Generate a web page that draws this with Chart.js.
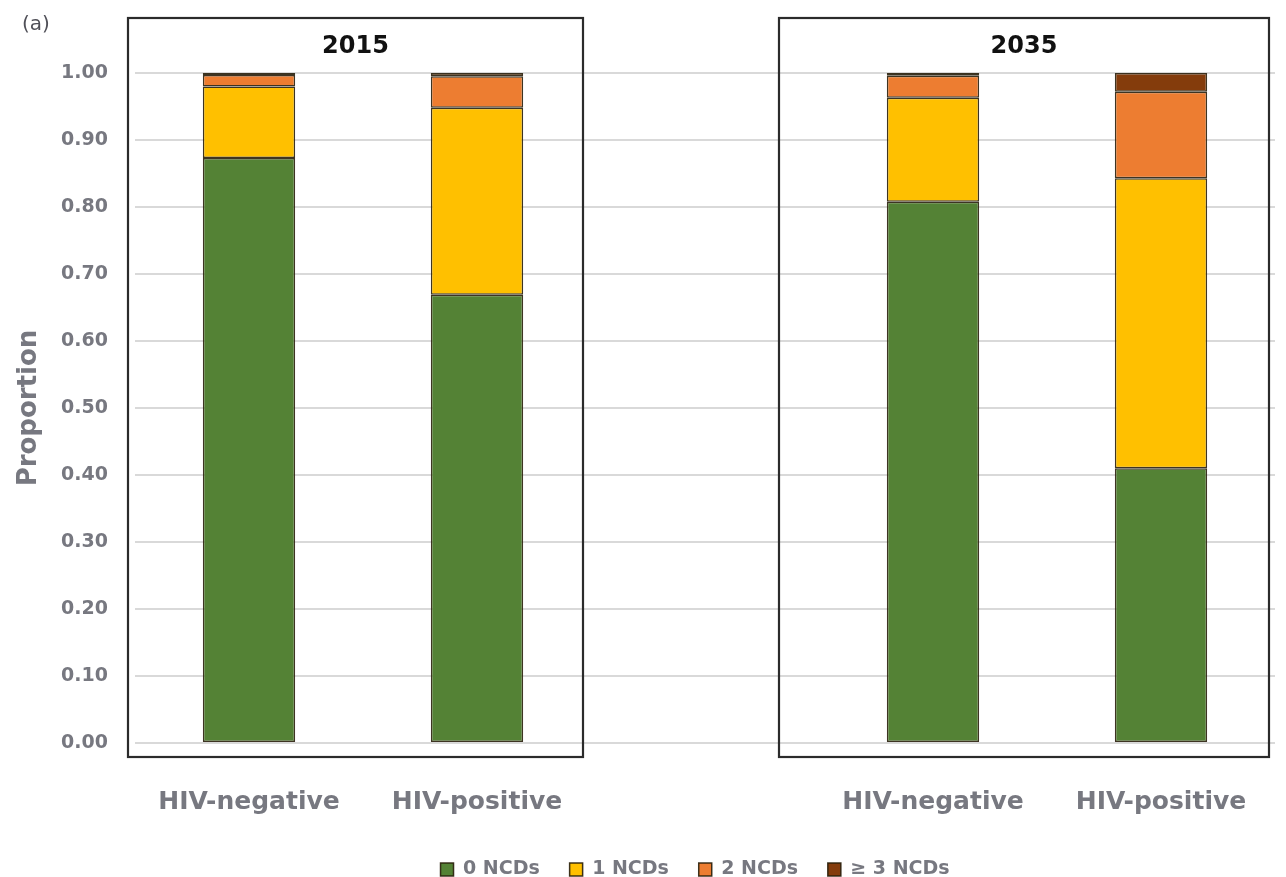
<!DOCTYPE html>
<html>
<head>
<meta charset="utf-8">
<script src="https://cdn.jsdelivr.net/npm/chart.js@4/dist/chart.umd.min.js"></script>
<style>
  html, body { margin: 0; padding: 0; background: #ffffff; }
  #wrap { width: 1286px; height: 877px; }
</style>
</head>
<body>
<div id="wrap"><canvas id="c" width="1286" height="877"></canvas></div>
<script>
// ---- Data ----
const categories = ['HIV-negative', 'HIV-positive', '', 'HIV-negative', 'HIV-positive'];
const panelTitles = ['2015', '2035'];
const seriesNames = ['0 NCDs', '1 NCDs', '2 NCDs', '\u2265 3 NCDs'];
const ncd0 = [0.873, 0.669, null, 0.808, 0.410];
const ncd1 = [0.107, 0.279, null, 0.155, 0.433];
const ncd2 = [0.017, 0.047, null, 0.033, 0.129];
const ncd3 = [0.003, 0.005, null, 0.004, 0.028];
const yTickMin = 0, yTickMax = 1, yTickStep = 0.1;

const colors = ['#548235', '#ffc000', '#ed7d31', '#843c0c'];
const borderCol = 'rgba(40,30,10,0.9)';
const FONT = '"DejaVu Sans", "Open Sans", sans-serif';
const GRAY = '#777880';

const seriesValues = [ncd0, ncd1, ncd2, ncd3];
const datasets = seriesValues.map((vals, i) => ({
  label: seriesNames[i],
  data: vals,
  backgroundColor: colors[i],
  borderColor: borderCol,
  borderWidth: 1.5,
  borderSkipped: false,
  barPercentage: 0.405,
  categoryPercentage: 1.0
}));

const panelPlugin = {
  id: 'panels',
  afterDraw(chart) {
    const ctx = chart.ctx;
    const x = chart.scales.x, y = chart.scales.y;
    const top = y.getPixelForValue(1) - 55;
    const bottom = y.getPixelForValue(0) + 14;
    const boxes = [
      [x.getPixelForValue(0) - 121, x.getPixelForValue(1) + 106],
      [x.getPixelForValue(3) - 154, x.getPixelForValue(4) + 108]
    ];
    ctx.save();
    ctx.strokeStyle = '#2b2b2b';
    ctx.lineWidth = 2.2;
    boxes.forEach((b, i) => {
      ctx.strokeRect(b[0], top, b[1] - b[0], bottom - top);
      ctx.fillStyle = '#111111';
      ctx.font = 'bold 24px ' + FONT;
      ctx.textAlign = 'center';
      ctx.textBaseline = 'middle';
      ctx.fillText(panelTitles[i], (b[0] + b[1]) / 2, top + 29);
    });
    ctx.fillStyle = '#505058';
    ctx.font = '20px ' + FONT;
    ctx.textAlign = 'left';
    ctx.textBaseline = 'middle';
    ctx.fillText('(a)', 22, 25);
    ctx.restore();
  }
};

new Chart(document.getElementById('c'), {
  type: 'bar',
  data: { labels: categories, datasets },
  options: {
    responsive: false,
    devicePixelRatio: 1,
    animation: false,
    layout: { padding: { top: 73, right: 11, left: 0, bottom: -12 } },
    plugins: {
      legend: {
        position: 'bottom',
        fullSize: false,
        labels: {
          boxWidth: 13, boxHeight: 13, padding: 10,
          color: GRAY,
          font: { family: FONT, size: 19, weight: 'bold' },
          generateLabels(chart) {
            const items = Chart.defaults.plugins.legend.labels.generateLabels(chart);
            items.forEach(it => {
              it.text = it.text + '\u00A0\u00A0\u00A0';
              it.strokeStyle = 'rgba(40,30,10,0.9)';
              it.lineWidth = 1.5;
            });
            return items;
          }
        }
      },
      tooltip: { enabled: false }
    },
    scales: {
      x: {
        stacked: true,
        grid: { display: false },
        border: { display: false },
        ticks: { color: GRAY, font: { family: FONT, size: 25, weight: 'bold' }, padding: 36, maxRotation: 0 },
        afterFit(s) { s.height = 107; }
      },
      y: {
        stacked: true,
        min: yTickMin, max: yTickMax,
        grid: { color: '#d9d9d9', lineWidth: 2, drawTicks: false },
        border: { display: false },
        ticks: {
          stepSize: yTickStep,
          color: GRAY,
          padding: 27,
          font: { family: FONT, size: 19, weight: 'bold' },
          callback: v => Number(v).toFixed(2)
        },
        title: {
          display: true, text: 'Proportion', color: GRAY,
          font: { family: FONT, size: 26, weight: 'bold' },
          padding: { top: 14, bottom: 0 }
        },
        afterFit(s) { s.width = 135; }
      }
    }
  },
  plugins: [panelPlugin]
});
</script>
</body>
</html>
